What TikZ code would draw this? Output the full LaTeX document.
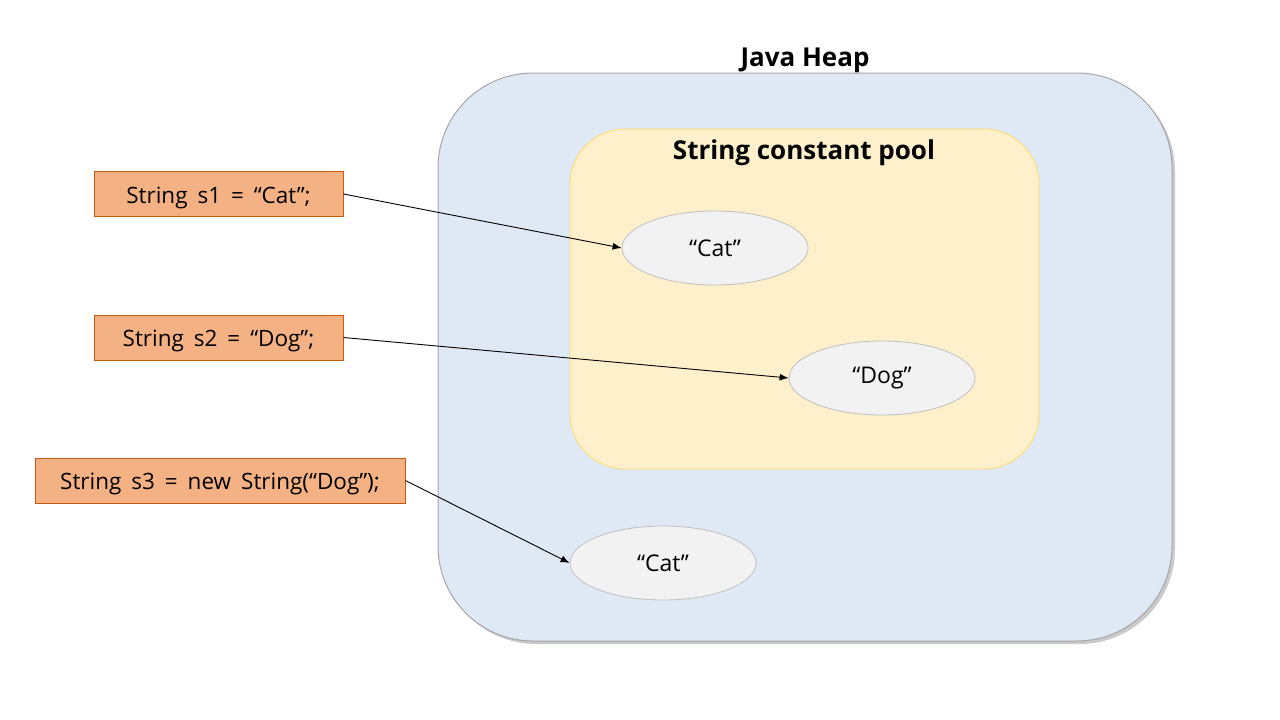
\documentclass[tikz,border=0pt]{standalone}
\usepackage{fontspec}
\setmainfont{Open Sans}
\newfontfamily\codefont[WordSpace=1.7]{Open Sans}
\usetikzlibrary{shadows,arrows.meta}
\definecolor{heapfill}{HTML}{DEE9F5}
\definecolor{heapdraw}{HTML}{A6A6A6}
\definecolor{poolfill}{HTML}{FFF0CC}
\definecolor{pooldraw}{HTML}{FFD966}
\definecolor{codefill}{HTML}{F4B183}
\definecolor{codedraw}{HTML}{C55A11}
\definecolor{strfill}{HTML}{F2F2F2}
\definecolor{strdraw}{HTML}{BFBFBF}
\tikzset{
  codebox/.style={draw=codedraw, fill=codefill, line width=1pt, inner sep=0pt, text height=21pt, text depth=3pt, font=\codefont\fontsize{22.5}{26}\selectfont},
  strobj/.style={ellipse, draw=strdraw, fill=strfill, line width=0.8pt, minimum width=186pt, minimum height=74pt, inner sep=0pt, font=\fontsize{23}{27}\selectfont},
  ref/.style={-{Latex[length=9pt,width=7pt]}, line width=0.9pt},
  title/.style={font=\bfseries\fontsize{26}{30}\selectfont}
}
\usetikzlibrary{shapes.geometric}
\begin{document}
\begin{tikzpicture}[x=1pt,y=-1pt]
\useasboundingbox (0,0) rectangle (1280,720);
% heap
\fill[black!35, opacity=0.6, rounded corners=95pt] (441,76) rectangle (1175,644);
\draw[draw=heapdraw, fill=heapfill, line width=1pt, rounded corners=95pt] (438,73) rectangle (1172,641);
\node[title] (heaptitle) at (805,60) {Java Heap};
% pool
\draw[draw=pooldraw, fill=poolfill, line width=0.8pt, rounded corners=55pt] (570,129) rectangle (1039,469);
\node[title] (pooltitle) at (804,153) {String constant pool};
% code boxes
\node[codebox, minimum width=249pt, minimum height=45pt] (s1) at (218.5,194) {String s1 = “Cat”;};
\node[codebox, minimum width=249pt, minimum height=45pt] (s2) at (218.5,337.5) {String s2 = “Dog”;};
\node[codebox, minimum width=370pt, minimum height=45pt] (s3) at (220,480.5) {String s3 = new String(“Dog”);};
% string objects
\node[strobj] (cat1) at (715,248) {“Cat”};
\node[strobj] (dog) at (882,378) {“Dog”};
\node[strobj] (cat2) at (663,563) {“Cat”};
% references
\draw[ref] (s1.east) -- (cat1.west);
\draw[ref] (s2.east) -- (dog.west);
\draw[ref] (s3.east) -- (cat2.west);
\end{tikzpicture}
\end{document}
